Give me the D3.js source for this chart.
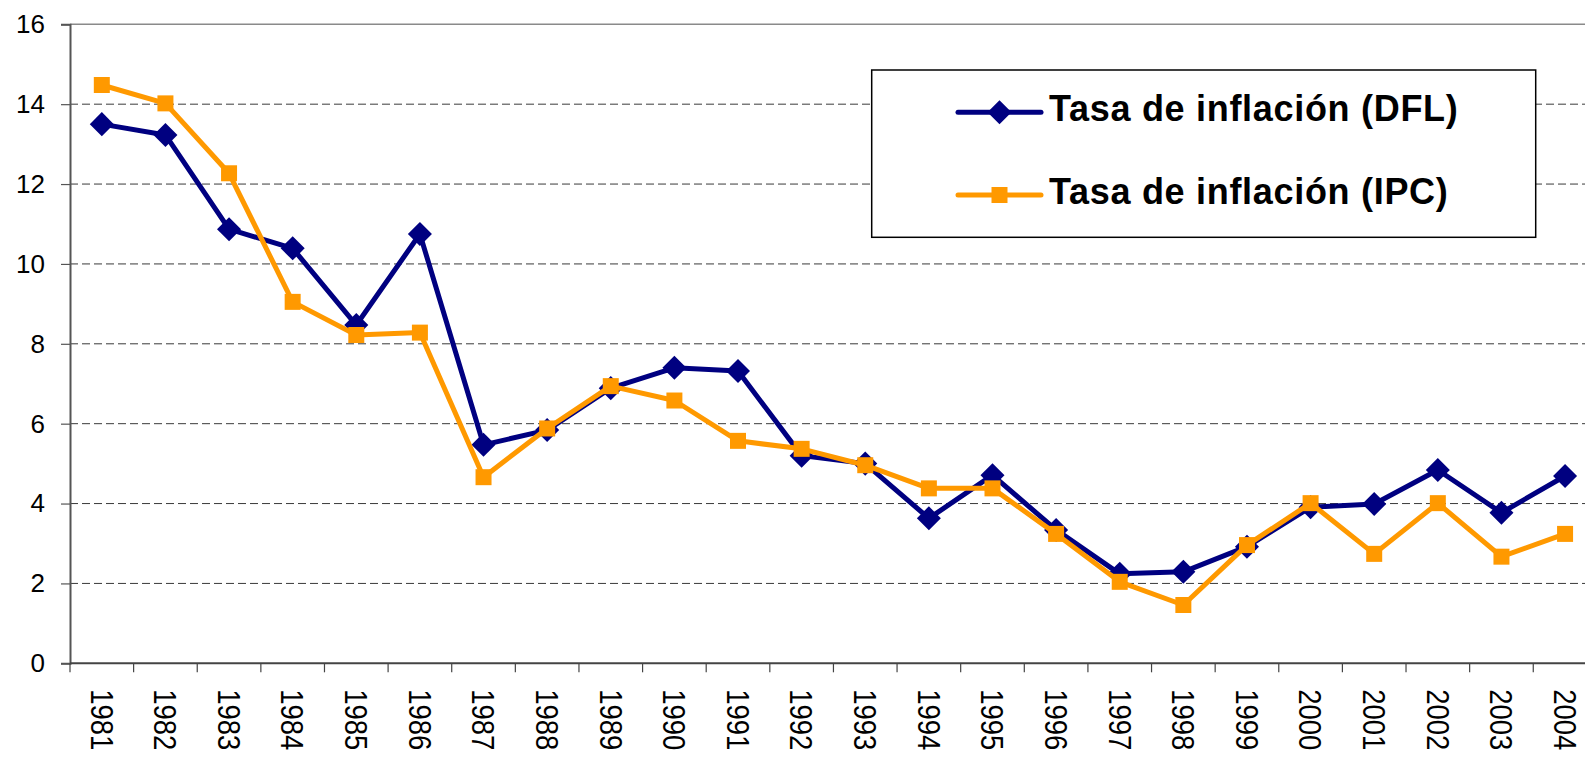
<!DOCTYPE html>
<html>
<head>
<meta charset="utf-8">
<script src="https://cdn.jsdelivr.net/npm/d3@7"></script>
<style>
    body { margin: 0; background: #fff; }
    svg { display: block; font-family: 'Liberation Sans', Arial, sans-serif; }
</style>
</head>
<body>
<div id="chart"></div>
<script>
const years = ['1981', '1982', '1983', '1984', '1985', '1986', '1987', '1988', '1989', '1990', '1991', '1992',
    '1993', '1994', '1995', '1996', '1997', '1998', '1999', '2000', '2001', '2002', '2003', '2004'];
const dfl = [13.5, 13.23, 10.87, 10.39, 8.47, 10.75, 5.47, 5.84, 6.89, 7.4, 7.32, 5.2,
    5.0, 3.63, 4.71, 3.34, 2.24, 2.29, 2.92, 3.91, 3.99, 4.84, 3.77, 4.69];
const ipc = [14.48, 14.02, 12.27, 9.05, 8.22, 8.28, 4.66, 5.88, 6.94, 6.58, 5.57, 5.37,
    4.96, 4.38, 4.38, 3.24, 2.04, 1.46, 2.96, 4.01, 2.74, 4.01, 2.67, 3.24];
const yTicks = [0, 2, 4, 6, 8, 10, 12, 14, 16];
const seriesNames = ['Tasa de inflación (DFL)', 'Tasa de inflación (IPC)'];

const chartWidth = 1585;
const chartHeight = 757;
const plotLeft = 70;
const plotTop = 24.3;
const plotBottom = 663.3;
const bandW = 63.62;

const svg = d3.select('#chart')
    .append('svg')
    .attr('width', chartWidth)
    .attr('height', chartHeight);

// scales
const xScale = d3.scaleBand()
    .domain(years)
    .range([plotLeft, plotLeft + bandW * years.length])
    .padding(0);

const yScale = d3.scaleLinear()
    .domain([0, 16])
    .range([plotBottom, plotTop]);

const cx = (i) => xScale(years[i]) + xScale.bandwidth() / 2;

// gridlines (dashed)
svg.append('g').selectAll('line')
    .data(yTicks.filter((d) => d > 0 && d < 16))
    .enter()
    .append('line')
    .attr('x1', plotLeft)
    .attr('x2', chartWidth)
    .attr('y1', (d) => yScale(d))
    .attr('y2', (d) => yScale(d))
    .attr('stroke', '#3a3a3a')
    .attr('stroke-width', 1)
    .attr('stroke-dasharray', '8,4');

// top border
svg.append('line')
    .attr('x1', plotLeft)
    .attr('x2', chartWidth)
    .attr('y1', yScale(16))
    .attr('y2', yScale(16))
    .attr('stroke', '#8a8a8a')
    .attr('stroke-width', 1.5);

// y axis
const yAxis = d3.axisLeft(yScale).tickValues(yTicks).tickSize(9).tickPadding(16);
const yG = svg.append('g')
    .attr('transform', `translate(${plotLeft}, 0)`)
    .call(yAxis);
yG.select('.domain').attr('stroke', '#555').attr('stroke-width', 2);
yG.selectAll('.tick line').attr('stroke', '#555').attr('stroke-width', 1.2);
yG.selectAll('.tick text')
    .attr('font-size', 26)
    .attr('fill', '#000')
    .attr('font-family', "'Liberation Sans', Arial, sans-serif");

// x axis: ticks at category boundaries
const xG = svg.append('g')
    .attr('transform', `translate(0, ${plotBottom})`);
xG.append('line')
    .attr('x1', plotLeft)
    .attr('x2', chartWidth)
    .attr('stroke', '#444')
    .attr('stroke-width', 2);
xG.selectAll('.tk')
    .data(years)
    .enter()
    .append('line')
    .attr('x1', (d) => xScale(d))
    .attr('x2', (d) => xScale(d))
    .attr('y1', 0)
    .attr('y2', 9)
    .attr('stroke', '#444')
    .attr('stroke-width', 1.2);
xG.selectAll('text')
    .data(years)
    .enter()
    .append('text')
    .attr('transform', (d, i) => `translate(${cx(i)}, 26) rotate(90)`)
    .attr('dy', '0.36em')
    .attr('font-size', 31)
    .attr('textLength', 61)
    .attr('lengthAdjust', 'spacingAndGlyphs')
    .text((d) => d);

// series
const line = d3.line()
    .x((d, i) => cx(i))
    .y((d) => yScale(d));

const diamond = d3.symbol(d3.symbolSquare, 17 * 17);
const square = d3.symbol(d3.symbolSquare, 16 * 16);

function drawSeries(values, color, shape, rot) {
    svg.append('path')
        .datum(values)
        .attr('d', line)
        .attr('fill', 'none')
        .attr('stroke', color)
        .attr('stroke-width', 5)
        .attr('stroke-linejoin', 'round');
    svg.append('g').selectAll('path')
        .data(values)
        .enter()
        .append('path')
        .attr('d', shape)
        .attr('transform', (d, i) => `translate(${cx(i)}, ${yScale(d)}) rotate(${rot})`)
        .attr('fill', color);
}

drawSeries(dfl, '#000080', diamond, 45);
drawSeries(ipc, '#FF9900', square, 0);

// legend
const legend = svg.append('g');
legend.append('rect')
    .attr('x', 871.7)
    .attr('y', 70)
    .attr('width', 664)
    .attr('height', 167.3)
    .attr('fill', '#fff')
    .attr('stroke', '#000')
    .attr('stroke-width', 1.5);

const items = [
    { name: seriesNames[0], color: '#000080', shape: diamond, rot: 45, y: 112.3 },
    { name: seriesNames[1], color: '#FF9900', shape: square, rot: 0, y: 195 }
];

items.forEach((it) => {
    const g = legend.append('g')
        .attr('transform', `translate(958, ${it.y})`);
    g.append('line')
        .attr('x1', 0)
        .attr('x2', 83)
        .attr('stroke', it.color)
        .attr('stroke-width', 5)
        .attr('stroke-linecap', 'round');
    g.append('path')
        .attr('d', it.shape)
        .attr('transform', `translate(41.5, 0) rotate(${it.rot})`)
        .attr('fill', it.color);
    g.append('text')
        .attr('x', 91)
        .attr('y', 9)
        .attr('font-size', 36)
        .attr('font-weight', 'bold')
        .attr('letter-spacing', 0.7)
        .text(it.name);
});
</script>
</body>
</html>
